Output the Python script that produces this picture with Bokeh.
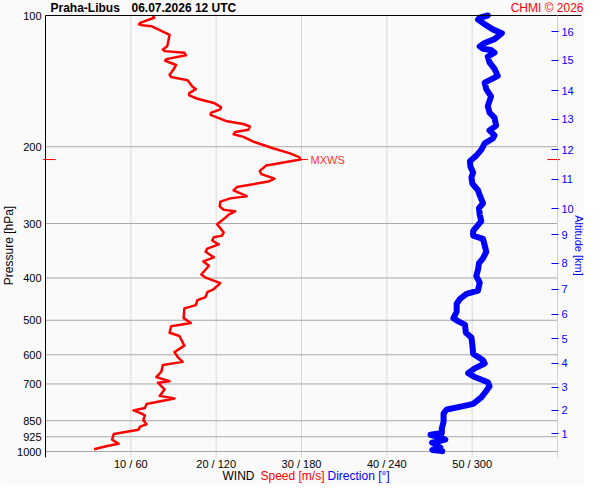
import math
from bokeh.plotting import figure
from bokeh.models import (Range1d, FixedTicker, LogAxis, LinearAxis, Label,
                          CustomJSTickFormatter, PrintfTickFormatter)
from bokeh.embed import file_html
from bokeh.resources import INLINE

# ---------------- data ----------------
station = "Praha-Libus"
timestamp = "06.07.2026 12 UTC"

pressure_ticks = [100, 200, 300, 400, 500, 600, 700, 850, 925, 1000]
speed_ticks = [10, 20, 30, 40, 50]
speed_max_axis = 60
p_top, p_bottom = 100, 1031
dir_per_speed = 6  # 10 m/s <-> 60 deg on the shared axis

alt_km = [1, 2, 3, 4, 5, 6, 7, 8, 9, 10, 11, 12, 13, 14, 15, 16]
alt_p = [910.6, 805.1, 712.9, 627.1, 551.6, 484.6, 424.2, 369.8, 318.7, 277.5,
         237.6, 203.0, 173.0, 148.9, 126.6, 108.9]

speed_p = [100.0, 101.2, 104.0, 104.7, 105.3, 105.8, 108.4, 110.8, 117.7, 119.7,
           120.7, 121.7, 123.4, 125.9, 127.0, 129.9, 133.7, 136.7, 138.4, 140.8,
           145.7, 147.5, 150.7, 152.5, 155.2, 158.7, 162.2, 164.2, 167.0, 169.0,
           174.9, 177.4, 179.7, 182.9, 185.0, 187.3, 189.8, 194.7, 201.6, 206.9,
           211.2, 214.0, 220.7, 227.2, 231.1, 236.7, 240.4, 247.5, 251.7, 259.6,
           262.7, 267.3, 274.2, 278.9, 281.3, 286.2, 291.1, 301.2, 314.3, 319.8,
           322.5, 328.1, 334.9, 342.4, 348.3, 358.6, 366.5, 374.9, 392.6, 399.3,
           411.1, 424.0, 431.2, 442.4, 449.9, 461.6, 469.7, 494.5, 507.3, 516.0,
           534.1, 543.3, 571.8, 591.8, 607.2, 622.9, 633.6, 655.7, 675.0, 690.2,
           695.9, 720.3, 745.5, 755.5, 777.9, 795.1, 805.0, 818.7, 825.9, 847.3,
           866.2, 876.6, 891.9, 911.9, 939.0, 960.0, 971.2, 988.3]
speed = [12.61, 12.73, 11.08, 10.96, 11.34, 12.41, 13.57, 14.54, 14.26, 13.76,
         13.96, 16.27, 16.45, 14.15, 14.03, 15.30, 14.92, 14.54, 14.72, 16.65,
         17.23, 17.61, 16.85, 16.85, 17.80, 19.73, 20.57, 20.49, 19.42, 19.34,
         21.27, 23.19, 23.95, 23.77, 22.22, 22.04, 23.19, 24.35, 26.65, 28.57,
         29.72, 29.86, 25.88, 25.11, 25.30, 26.84, 26.11, 22.42, 22.04, 23.57,
         21.65, 20.49, 20.42, 20.88, 22.22, 21.46, 21.07, 20.11, 20.88, 20.69,
         19.73, 19.53, 20.31, 18.96, 18.76, 19.73, 18.50, 19.15, 18.26, 18.76,
         20.49, 19.73, 18.96, 18.76, 17.80, 17.61, 16.27, 16.19, 17.03, 14.72,
         14.54, 15.69, 16.27, 15.11, 15.50, 16.07, 13.76, 13.57, 12.99, 14.54,
         13.19, 13.96, 13.38, 15.11, 11.84, 11.65, 10.30, 11.26, 11.65, 11.46,
         11.84, 11.08, 10.88, 8.00, 7.80, 8.57, 7.22, 5.69]

dir_p = [100.0, 101.2, 102.2, 104.7, 107.6, 109.8, 113.3, 115.6, 117.7, 119.2,
         120.0, 121.7, 124.2, 128.1, 132.5, 137.6, 140.1, 142.5, 147.5, 153.3,
         161.4, 167.0, 171.4, 178.8, 183.5, 188.3, 191.5, 196.5, 203.3, 209.6,
         215.9, 222.3, 229.2, 235.1, 243.2, 251.7, 258.3, 269.5, 276.5, 286.2,
         296.2, 311.8, 319.8, 325.3, 336.7, 348.3, 360.5, 369.8, 382.8, 396.0,
         409.9, 427.7, 435.2, 446.5, 458.1, 478.0, 494.7, 503.0, 511.6, 534.1,
         548.0, 571.8, 596.9, 617.7, 628.1, 644.5, 661.2, 674.9, 693.9, 708.3,
         726.6, 751.6, 777.8, 787.1, 800.9, 818.8, 854.4, 884.3, 907.3, 915.3,
         930.9, 939.1, 955.0, 979.7, 992.0, 998.0]
direction = [311.0, 305.3, 304.1, 308.8, 314.5, 320.9, 315.7, 308.8, 305.3, 307.6,
             313.3, 315.7, 311.0, 312.2, 315.7, 318.0, 313.3, 308.8, 309.9, 313.3,
             311.0, 312.2, 315.7, 316.8, 312.2, 315.7, 314.5, 308.8, 306.4, 302.9,
             298.4, 298.8, 300.7, 299.5, 300.2, 304.1, 305.3, 307.6, 304.8, 305.3,
             306.4, 300.7, 300.7, 307.6, 308.8, 309.9, 307.6, 304.8, 304.1, 302.9,
             305.3, 304.1, 296.0, 291.5, 289.1, 289.1, 286.8, 290.3, 294.9, 295.6,
             299.5, 300.2, 300.7, 307.6, 308.8, 301.8, 297.2, 301.8, 311.0, 312.2,
             309.9, 306.4, 300.7, 293.7, 282.2, 279.9, 279.9, 278.7, 278.7, 270.7,
             278.7, 281.1, 271.8, 277.6, 272.0, 279.0]

# ---------------- layout (canvas px) ----------------
W, H = 584, 484
XL, XR = 45.0, 557.0      # px of speed 0 and speed 60
YT, Y1000 = 15.0, 451.0   # px of 100 hPa and 1000 hPa
FONT = "Liberation Sans"


def s_of(px):
    return (px - XL) / (XR - XL) * speed_max_axis


def p_of(py):
    return 10 ** (2 + (py - YT) / (Y1000 - YT))


p = figure(width=W, height=H, output_backend="svg", toolbar_location=None,
           y_axis_type="log", x_axis_location=None, y_axis_location=None,
           x_range=Range1d(s_of(0), s_of(W)),
           y_range=Range1d(start=p_of(H), end=p_of(0)), min_border=0)
p.extra_x_ranges = {"dir": Range1d(s_of(0) * dir_per_speed, s_of(W) * dir_per_speed)}
p.background_fill_color = "#fafafa"
p.border_fill_color = "#fafafa"
p.outline_line_color = None
p.grid.visible = False

# grid lines limited to the diagram area
n_p, n_s = len(pressure_ticks), len(speed_ticks)
p.segment(x0=speed_ticks, x1=speed_ticks, y0=[p_top] * n_s, y1=[p_bottom] * n_s,
          line_color="#d9d9d9", line_width=1)
p.segment(x0=[0] * n_p, x1=[speed_max_axis] * n_p, y0=pressure_ticks, y1=pressure_ticks,
          line_color="#a8a8a8", line_width=1)

# left axis (pressure)
la = LogAxis(ticker=FixedTicker(ticks=pressure_ticks), formatter=PrintfTickFormatter(format="%d"),
             fixed_location=0, bounds=(p_top, p_bottom),
             major_tick_in=0, major_tick_out=0, minor_tick_in=0, minor_tick_out=0,
             major_label_standoff=4, axis_line_color="black",
             major_label_text_font=FONT, major_label_text_font_size="11px",
             major_label_text_color="black")
p.add_layout(la, "left")

# right axis (altitude)
ra = LogAxis(ticker=FixedTicker(ticks=alt_p), fixed_location=speed_max_axis,
             bounds=(p_top, p_bottom),
             formatter=CustomJSTickFormatter(
                 args=dict(ps=alt_p, labs=[str(k) for k in alt_km]),
                 code="for (let i = 0; i < ps.length; i++) { if (Math.abs(ps[i] - tick) < 1e-6) return labs[i]; } return '';"),
             axis_line_color="#d0d0d0", major_tick_line_color="blue",
             major_tick_in=6, major_tick_out=1, minor_tick_in=0, minor_tick_out=0,
             major_label_standoff=3, major_label_text_font=FONT,
             major_label_text_font_size="11px", major_label_text_color="blue")
p.add_layout(ra, "right")

# bottom axis (speed / direction)
ba = LinearAxis(ticker=FixedTicker(ticks=speed_ticks), fixed_location=p_bottom,
                bounds=(0, speed_max_axis),
                formatter=CustomJSTickFormatter(args=dict(k=dir_per_speed),
                    code="return tick.toFixed(0) + ' / ' + (tick*k).toFixed(0);"),
                axis_line_color=None, major_tick_in=0, major_tick_out=0,
                minor_tick_in=0, minor_tick_out=0, major_label_standoff=1,
                major_label_text_font=FONT, major_label_text_font_size="11px",
                major_label_text_color="black")
p.add_layout(ba, "below")

# top line
ta = LinearAxis(ticker=FixedTicker(ticks=[]), fixed_location=p_top, bounds=(0, s_of(581)),
                major_tick_in=0, major_tick_out=0, minor_tick_in=0, minor_tick_out=0,
                major_label_standoff=0, major_label_text_font_size="0px",
                axis_line_color="black")
p.add_layout(ta, "above")

# data lines
p.line(direction, dir_p, x_range_name="dir", line_color="#0000ff", line_width=6,
       line_join="round", line_cap="round")
p.line(speed, speed_p, line_color="#ff0000", line_width=2.5, line_join="round")

# MXWS marker
imax = max(range(len(speed)), key=lambda i: speed[i])
mx_s, mx_p = speed[imax], speed_p[imax]
p.segment(x0=[mx_s], y0=[mx_p], x1=[mx_s + 0.9], y1=[mx_p], line_color="#ff0000", line_width=1)
p.segment(x0=[-0.3, speed_max_axis - 1.2], y0=[mx_p, mx_p],
          x1=[1.2, speed_max_axis + 0.3], y1=[mx_p, mx_p],
          line_color="#ff0000", line_width=1)
p.add_layout(Label(x=mx_s + 1.2, y=mx_p, text="MXWS", text_color="#ff3030",
                   text_font=FONT, text_font_size="11px", text_baseline="middle"))


def lab(px, py, text, color="black", size="12px", style="normal", align="left",
        angle=0.0, baseline="middle"):
    p.add_layout(Label(x=s_of(px), y=p_of(py), text=text, text_color=color, text_font=FONT,
                       text_font_size=size, text_font_style=style, text_align=align,
                       text_baseline=baseline, angle=angle))


lab(50, 7.5, station, style="bold")
lab(131, 7.5, timestamp, style="bold")
lab(583, 7, "CHMI \u00a9 2026", color="#ff0000", align="right")
lab(222, 475.5, "WIND")
lab(260, 475.5, "Speed [m/s]", color="#ff0000")
lab(327, 475.5, "Direction [\u00b0]", color="#0000ff")
lab(8, 245, "Pressure [hPa]", align="center", angle=math.pi / 2)
lab(578, 245, "Altitude [km]", color="#0000ff", size="11px", align="center", angle=-math.pi / 2)

open("out.html", "w").write(file_html(p, INLINE))
